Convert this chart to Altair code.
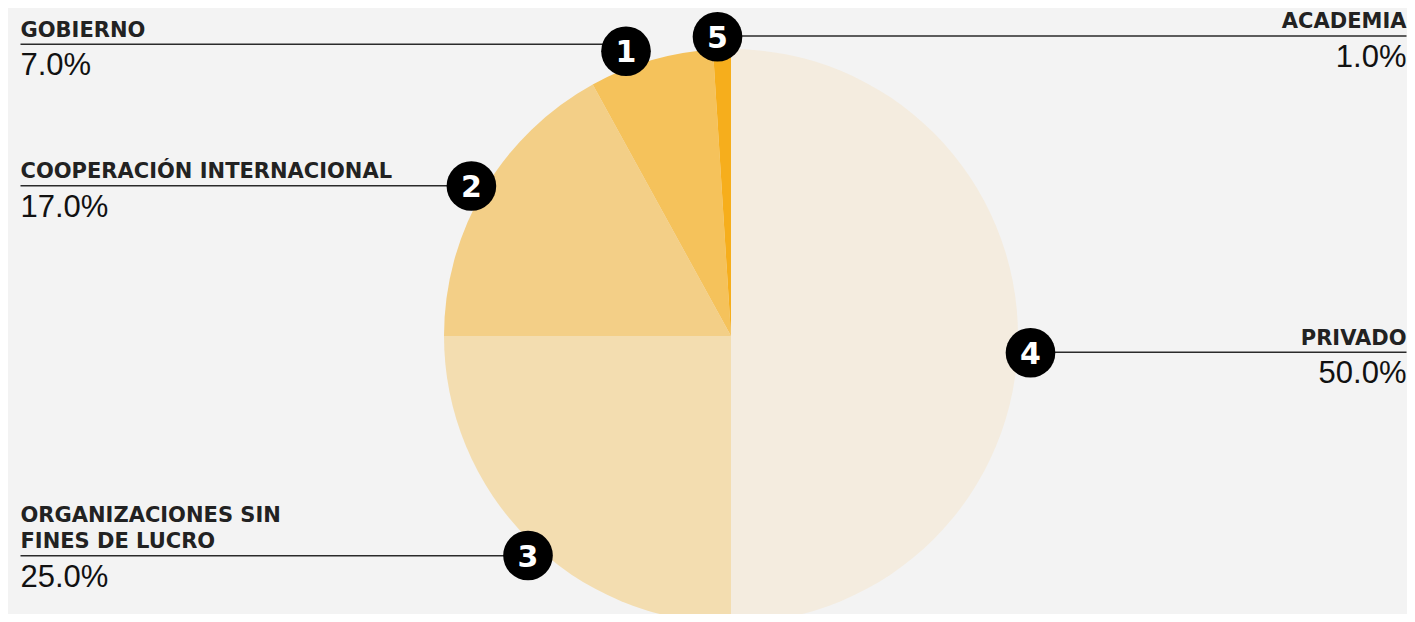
import altair as alt
import pandas as pd

# ---------------- data ----------------
categories = [
    "PRIVADO",
    "ORGANIZACIONES SIN FINES DE LUCRO",
    "COOPERACIÓN INTERNACIONAL",
    "GOBIERNO",
    "ACADEMIA",
]
values = [50.0, 25.0, 17.0, 7.0, 1.0]
badge_numbers = ["4", "3", "2", "1", "5"]
label_lines = [
    ["PRIVADO"],
    ["ORGANIZACIONES SIN", "FINES DE LUCRO"],
    ["COOPERACIÓN INTERNACIONAL"],
    ["GOBIERNO"],
    ["ACADEMIA"],
]
colors = ["#F4ECDF", "#F3DDB0", "#F3CF87", "#F5C25B", "#F6AE1C"]

# ---------------- layout (pixels inside the chart) ----------------
W, H = 1399, 606
PIE_X, PIE_Y, PIE_R = 723, 328, 287
LEFT_X, RIGHT_X = 12.5, 1398.5
BADGE_R = 28
LINE_H = 26.3
# badge centre x, badge centre y, leader-line y, side
callouts = {
    "PRIVADO": (1022.5, 344.8, 344.3, "right"),
    "ORGANIZACIONES SIN FINES DE LUCRO": (520, 547.5, 547.7, "left"),
    "COOPERACIÓN INTERNACIONAL": (463.4, 178.0, 177.7, "left"),
    "GOBIERNO": (618, 43.3, 36.3, "left"),
    "ACADEMIA": (709.5, 28.7, 28.0, "right"),
}

pie_df = pd.DataFrame({
    "category": categories,
    "value": values,
    "idx": list(range(len(categories))),
})

rows = []
for cat, val, num, lines in zip(categories, values, badge_numbers, label_lines):
    bx, by, ly, side = callouts[cat]
    rows.append({
        "category": cat,
        "num": num,
        "label": lines,
        "pct": f"{val:.1f}%",
        "bx": bx,
        "by": by,
        "ly": ly,
        "side": side,
        "x1": LEFT_X if side == "left" else bx,
        "x2": bx if side == "left" else RIGHT_X,
        "tx": LEFT_X if side == "left" else RIGHT_X,
        "label_y": ly - 7.6 - (len(lines) - 1) * LINE_H,
        "pct_y": ly + 31,
    })
ann = pd.DataFrame(rows)

px = lambda f: alt.X(f"{f}:Q", scale=None, axis=None)
py = lambda f: alt.Y(f"{f}:Q", scale=None, axis=None)

pie = alt.Chart(pie_df).mark_arc(outerRadius=PIE_R, strokeWidth=0).encode(
    theta=alt.Theta("value:Q", stack=True),
    color=alt.Color("category:N", scale=alt.Scale(domain=categories, range=colors), legend=None),
    order=alt.Order("idx:Q"),
    x=alt.value(PIE_X),
    y=alt.value(PIE_Y),
)

base = alt.Chart(ann)

leaders = base.mark_rule(color="#2a2a2a", strokeWidth=1.5).encode(
    x=px("x1"), x2=alt.X2("x2"), y=py("ly")
)

badges = base.mark_circle(color="#000000", opacity=1, size=3.14159 * BADGE_R ** 2).encode(
    x=px("bx"), y=py("by")
)

badge_txt = base.mark_text(
    font="DejaVu Sans", fontWeight="bold", fontSize=30, color="#ffffff",
    align="center", baseline="alphabetic", dy=11
).encode(x=px("bx"), y=py("by"), text="num:N")

def side_layers(side):
    d = base.transform_filter(alt.datum.side == side)
    lab = d.mark_text(
        font="DejaVu Sans", fontWeight="bold", fontSize=21, color="#222222",
        align=side, baseline="alphabetic", lineHeight=LINE_H
    ).encode(x=px("tx"), y=py("label_y"), text="label")
    pct = d.mark_text(
        font="Liberation Sans", fontSize=31, color="#111111",
        align=side, baseline="alphabetic"
    ).encode(x=px("tx"), y=py("pct_y"), text="pct:N")
    return [lab, pct]

chart = alt.layer(
    pie, leaders, badges, badge_txt, *side_layers("left"), *side_layers("right")
).properties(
    width=W, height=H, background="#F3F3F3", padding=0,
    autosize=alt.AutoSizeParams(type="none"),
).configure_view(stroke=None)

chart.save("out.html", embed_options={"renderer": "svg", "actions": False})
